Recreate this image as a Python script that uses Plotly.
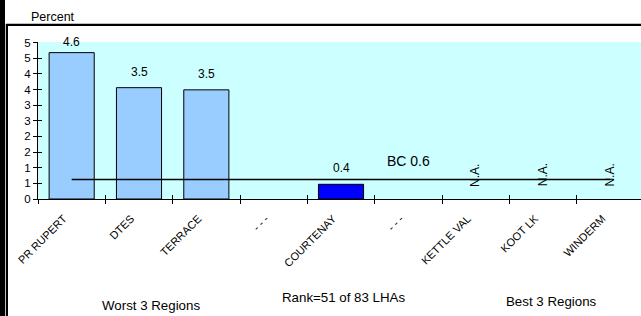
import plotly.graph_objects as go

categories = ["PR RUPERT", "DTES", "TERRACE", "- - -", "COURTENAY", "- - -", "KETTLE VAL", "KOOT LK", "WINDERM"]
values = [4.68, 3.56, 3.49, None, 0.47, None, None, None, None]
value_labels = ["4.6", "3.5", "3.5", "", "0.4", "", "N.A.", "N.A.", "N.A."]
bar_colors = ["#99CCFF", "#99CCFF", "#99CCFF", "#99CCFF", "#0000FF", "#99CCFF", "#99CCFF", "#99CCFF", "#99CCFF"]
bc_value = 0.62
bc_label = "BC 0.6"
ytick_vals = [0, 0.5, 1, 1.5, 2, 2.5, 3, 3.5, 4, 4.5, 5]
ytick_text = ["0", "1", "1", "2", "2", "3", "3", "4", "4", "5", "5"]
rank_text = "Rank=51 of 83 LHAs"

FONT = "Liberation Sans, Arial, sans-serif"
W, H = 641, 316
L, T, B = 38, 42, 199   # plot-area pixel edges (left, top, bottom)

def px(x):
    return x / W

def py(y):
    return 1 - y / H

n = len(categories)
xs = list(range(n))
bounds = [i - 0.5 for i in range(n + 1)]
xr = [-0.5, 8.455]
yr = [0, 5.02]
xdom = [px(L), 1]
ydom = [py(B), py(T)]

fig = go.Figure()
fig.add_trace(go.Bar(x=xs, y=values, width=0.67, marker=dict(color=bar_colors, line=dict(color="black", width=1)),
                     showlegend=False, hoverinfo="skip"))
fig.add_trace(go.Scatter(x=[0, n - 1], y=[bc_value, bc_value], mode="lines",
                         line=dict(color="black", width=1.5), showlegend=False, hoverinfo="skip"))
fig.add_trace(go.Scatter(x=[0], y=[0], xaxis="x2", yaxis="y2", mode="markers", marker=dict(opacity=0), showlegend=False, hoverinfo="skip"))
fig.add_trace(go.Scatter(x=[0], y=[0], xaxis="x3", yaxis="y3", mode="markers", marker=dict(opacity=0), showlegend=False, hoverinfo="skip"))

ann = []
shifts = [2, 7, 7, 7, 7, 7, 7, 7, 7]
for i, (v, t) in enumerate(zip(values, value_labels)):
    if not t:
        continue
    if v is None:
        ann.append(dict(x=i, y=0.76, xref="x", yref="y", text=t, showarrow=False, textangle=-90,
                        xanchor="center", yanchor="middle",
                        font=dict(family=FONT, size=12, color="black")))
    else:
        ann.append(dict(x=i, y=v, xref="x", yref="y", text=t, showarrow=False, xanchor="center",
                        yanchor="bottom", yshift=shifts[i],
                        font=dict(family=FONT, size=12, color="black")))
ann.append(dict(x=5.0, y=bc_value, xref="x", yref="y", text=bc_label, showarrow=False, xanchor="center",
                yanchor="bottom", yshift=9, font=dict(family=FONT, size=14, color="black")))
for txt, cx, cy, sz in [("Percent", 53, 17, 12.5), ("Worst 3 Regions", 151, 305, 13.3),
                        (rank_text, 343, 297, 13.3), ("Best 3 Regions", 551.7, 301.7, 13.3)]:
    ann.append(dict(x=px(cx), y=py(cy), xref="paper", yref="paper", text=txt, showarrow=False,
                    xanchor="center", yanchor="middle", font=dict(family=FONT, size=sz, color="black")))

def block(x0, y0, w, h):
    return dict(x=px(x0), y=py(y0), xref="paper", yref="paper", text=" ", showarrow=False,
                xanchor="left", yanchor="top", width=w, height=h, bgcolor="black",
                borderpad=0, borderwidth=0, font=dict(size=1, color="black"))

ann.append(block(0, 0, 4.5, H))
ann.append(block(6, 24, 1.5, H - 24))
ann.append(block(6, 24, W - 6, 1.5))

shapes = [
    dict(type="rect", xref="paper", yref="paper", x0=0, x1=px(4.5), y0=0, y1=1,
         fillcolor="black", line=dict(width=0), layer="above"),
    dict(type="line", xref="paper", yref="paper", x0=px(6.5), x1=px(6.5), y0=0, y1=py(24),
         line=dict(color="black", width=1.5), layer="above"),
    dict(type="line", xref="paper", yref="paper", x0=px(6), x1=1, y0=py(24.5), y1=py(24.5),
         line=dict(color="black", width=1.5), layer="above"),
]

common_x = dict(range=xr, domain=xdom, showgrid=False, zeroline=False, fixedrange=True, automargin=False)
common_y = dict(range=yr, domain=ydom, showgrid=False, zeroline=False, fixedrange=True, automargin=False)

fig.update_layout(
    width=W, height=H,
    margin=dict(l=0, r=0, t=0, b=0, pad=0, autoexpand=False),
    paper_bgcolor="white", plot_bgcolor="#CCFFFF",
    bargap=0,
    xaxis=dict(**common_x, tickvals=xs, ticktext=categories, ticks="", tickangle=-45,
               ticklabelshift=-8, ticklabelstandoff=8,
               showline=True, linecolor="black", linewidth=1,
               tickfont=dict(family=FONT, size=11, color="black")),
    xaxis2=dict(**common_x, overlaying="x", anchor="y", tickvals=bounds, ticks="outside", ticklen=4,
                tickcolor="black", showticklabels=False, showline=False),
    xaxis3=dict(**common_x, overlaying="x", anchor="y", tickvals=bounds, ticks="inside", ticklen=4,
                tickcolor="black", showticklabels=False, showline=False),
    yaxis=dict(**common_y, tickvals=ytick_vals, ticktext=ytick_text, ticks="outside", ticklen=4, tickcolor="black",
               showline=True, linecolor="black", linewidth=1,
               tickfont=dict(family=FONT, size=11.5, color="black")),
    yaxis2=dict(**common_y, overlaying="y", anchor="x", tickvals=ytick_vals, ticks="inside", ticklen=4,
                tickcolor="black", showticklabels=False, showline=False),
    yaxis3=dict(**common_y, overlaying="y", anchor="x", tickvals=ytick_vals, showticklabels=False, ticks=""),
    annotations=ann, shapes=shapes,
)

fig.write_html("out.html", config={"displayModeBar": False, "staticPlot": True},
               post_script="document.body.style.margin='0';")
